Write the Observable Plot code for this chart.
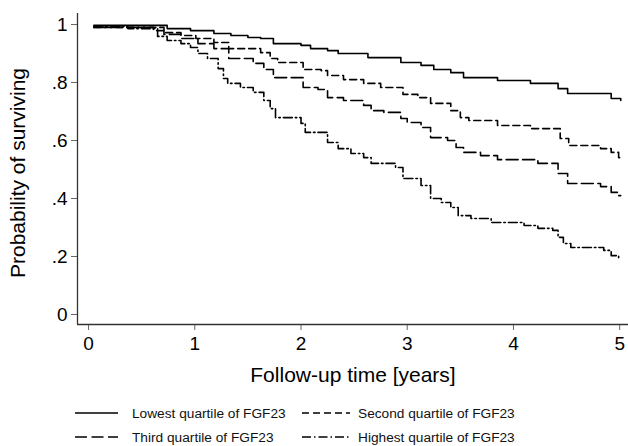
<!DOCTYPE html>
<html>
<head>
<meta charset="utf-8">
<script src="https://cdn.jsdelivr.net/npm/d3@7"></script>
<script src="https://cdn.jsdelivr.net/npm/@observablehq/plot@0.6"></script>
<style>
  body { margin: 0; background: white; }
  #wrap { position: relative; width: 628px; height: 446px; font-family: "Liberation Sans", Arial, sans-serif; }
  .leg { position: absolute; display: flex; align-items: center; font-size: 13.7px; color: #111; white-space: nowrap; }
</style>
</head>
<body>
<div id="wrap"><div id="chart"></div><div id="legend"></div></div>
<script>
// Kaplan-Meier step curves (time in years, survival probability)
const lowestT = [0.05,0.74,0.96,1.18,1.34,1.50,1.62,1.74,2.00,2.09,2.25,2.35,2.63,2.94,3.13,3.25,3.41,3.53,3.85,4.16,4.42,4.51,4.92,5.01];
const lowestS = [0.997,0.986,0.979,0.969,0.962,0.955,0.952,0.934,0.928,0.917,0.910,0.900,0.886,0.869,0.859,0.845,0.834,0.817,0.807,0.797,0.779,0.762,0.745,0.738];

const secondT = [0.05,0.71,0.87,1.01,1.18,1.32,1.62,1.71,1.78,2.02,2.19,2.25,2.40,2.59,2.75,2.96,3.10,3.22,3.41,3.50,3.58,3.85,4.16,4.44,4.52,4.82,4.92,4.99,5.01];
const secondS = [0.990,0.972,0.962,0.952,0.938,0.917,0.903,0.883,0.869,0.845,0.841,0.824,0.810,0.797,0.783,0.759,0.748,0.728,0.703,0.679,0.669,0.652,0.641,0.607,0.583,0.572,0.559,0.541,0.541];

const thirdT = [0.05,0.61,0.71,0.87,1.03,1.18,1.32,1.55,1.65,1.74,2.02,2.16,2.25,2.40,2.59,2.66,2.78,2.94,3.00,3.13,3.22,3.38,3.46,3.53,3.69,3.85,4.23,4.42,4.51,4.82,4.92,4.99,5.01];
const thirdS = [0.990,0.979,0.966,0.952,0.934,0.917,0.883,0.866,0.845,0.817,0.783,0.776,0.748,0.738,0.721,0.703,0.697,0.676,0.662,0.645,0.610,0.600,0.576,0.559,0.548,0.534,0.521,0.486,0.452,0.441,0.421,0.410,0.410];

const highestT = [0.05,0.37,0.65,0.74,0.87,0.96,1.03,1.12,1.22,1.27,1.31,1.43,1.55,1.65,1.71,1.76,2.00,2.04,2.25,2.35,2.47,2.59,2.66,2.89,2.96,3.13,3.22,3.32,3.41,3.48,3.60,3.79,4.10,4.23,4.37,4.42,4.47,4.54,4.85,4.92,4.99,5.01];
const highestS = [0.993,0.986,0.959,0.945,0.934,0.921,0.900,0.883,0.848,0.814,0.797,0.783,0.766,0.738,0.710,0.679,0.659,0.628,0.593,0.572,0.555,0.541,0.521,0.507,0.469,0.445,0.400,0.386,0.369,0.341,0.331,0.317,0.307,0.297,0.290,0.266,0.245,0.231,0.221,0.203,0.193,0.193];

const seriesNames = ["Lowest quartile of FGF23", "Second quartile of FGF23", "Third quartile of FGF23", "Highest quartile of FGF23"];
const xTicks = [0, 1, 2, 3, 4, 5];
const yTicks = [0, 0.2, 0.4, 0.6, 0.8, 1];
const xDomain = [-0.104, 5.083];
const yDomain = [-0.0345, 1.038];

const dashes = [null, "7,4", "12,4.5", "9,3,1.5,3"];
const seriesT = [lowestT, secondT, thirdT, highestT];
const seriesS = [lowestS, secondS, thirdS, highestS];
const rows = seriesT.map((ts, i) => ts.map((t, j) => ({t, s: seriesS[i][j], g: seriesNames[i]})));

const fmtY = d => d === 0 ? "0" : d === 1 ? "1" : String(d).replace(/^0/, "");

const chart = Plot.plot({
  width: 628,
  height: 395,
  marginLeft: 77,
  marginRight: 0,
  marginTop: 13,
  marginBottom: 71,
  style: {fontFamily: "'Liberation Sans', Arial, sans-serif", background: "white", color: "black"},
  x: {domain: xDomain, label: null},
  y: {domain: yDomain, label: null},
  marks: [
    Plot.axisX({ticks: xTicks, tickSize: 6, tickPadding: 6, fontSize: 19, stroke: "#666", fill: "black", tickFormat: d => String(d), label: null}),
    Plot.axisY({ticks: yTicks, tickSize: 6, tickPadding: 4, fontSize: 19, stroke: "#666", fill: "black", tickFormat: fmtY, label: null}),
    Plot.ruleX([xDomain[0]], {stroke: "#333", strokeWidth: 1.3}),
    Plot.ruleY([yDomain[0]], {stroke: "#333", strokeWidth: 1.3}),
    ...rows.map((r, i) => Plot.line(r, {x: "t", y: "s", curve: "step-after", stroke: "black", strokeWidth: 1.6, strokeDasharray: dashes[i]})),
    Plot.text(["Follow-up time [years]"], {frameAnchor: "bottom", dy: 51, fontSize: 21, fill: "black", text: d => d, textAnchor: "middle", lineAnchor: "middle"}),
    Plot.text(["Probability of surviving"], {frameAnchor: "left", dx: -59, dy: 4, rotate: -90, fontSize: 21, fill: "black", text: d => d, textAnchor: "middle", lineAnchor: "middle"})
  ]
});
document.getElementById("chart").appendChild(chart);

// Legend
const legPos = [
  {x: 75, y: 413, w: 43, gap: 14}, {x: 302, y: 413, w: 48, gap: 8},
  {x: 75, y: 437, w: 43, gap: 14}, {x: 302, y: 437, w: 48, gap: 8}
];
const legend = document.getElementById("legend");
seriesNames.forEach((name, i) => {
  const p = legPos[i];
  const div = document.createElement("div");
  div.className = "leg";
  div.style.left = p.x + "px";
  div.style.top = (p.y - 10) + "px";
  div.style.height = "20px";
  div.innerHTML = `<svg width="${p.w}" height="6" style="margin-right:${p.gap}px"><line x1="0" y1="3" x2="${p.w}" y2="3" stroke="black" stroke-width="1.6" ${dashes[i] ? `stroke-dasharray="${dashes[i]}"` : ""}/></svg><span>${name}</span>`;
  legend.appendChild(div);
});
</script>
</body>
</html>
